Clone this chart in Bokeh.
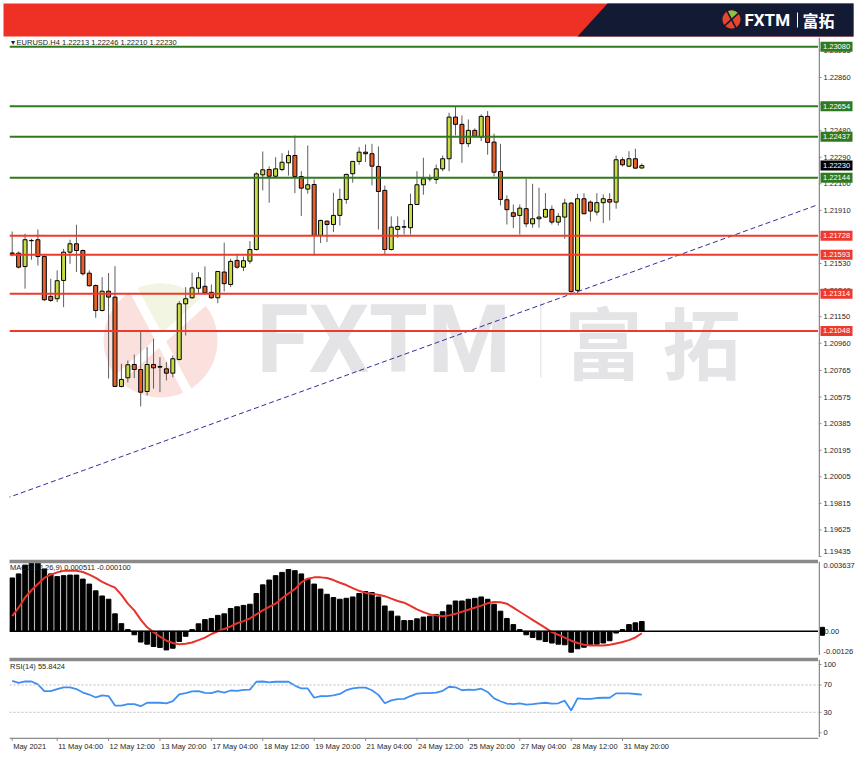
import numpy as np
from bokeh.plotting import figure
from bokeh.layouts import column, row
from bokeh.models import (Range1d, LinearAxis, FixedTicker, Span, Label, BoxAnnotation,
                          PolyAnnotation, ColumnDataSource)
from bokeh.core.properties import value
from bokeh.embed import file_html
from bokeh.resources import INLINE

# ---------------- EURUSD H4 data (bars 1..99, oldest first) ----------------
open_ = [1.21605, 1.21604, 1.21508, 1.21695, 1.21700, 1.21580, 1.21295, 1.21278, 1.21409, 1.21611,
         1.21671, 1.21623, 1.21461, 1.21373, 1.21194, 1.21332, 1.21290, 1.20651, 1.20713, 1.20808,
         1.20772, 1.20615, 1.20808, 1.20794, 1.20777, 1.20746, 1.20844, 1.21242, 1.21285, 1.21353,
         1.21367, 1.21324, 1.21285, 1.21469, 1.21380, 1.21552, 1.21504, 1.21547, 1.21630, 1.22164,
         1.22202, 1.22154, 1.22202, 1.22250, 1.22302, 1.22152, 1.22062, 1.22095, 1.21731, 1.21833,
         1.21809, 1.21874, 1.21988, 1.22172, 1.22260, 1.22326, 1.22315, 1.22224, 1.22053, 1.21630,
         1.21774, 1.21790, 1.21786, 1.21952, 1.22093, 1.22135, 1.22131, 1.22207, 1.22279, 1.22577,
         1.22525, 1.22387, 1.22482, 1.22434, 1.22582, 1.22398, 1.22188, 1.21986, 1.21893, 1.21874,
         1.21922, 1.21814, 1.21850, 1.21862, 1.21917, 1.21826, 1.21862, 1.21962, 1.21338, 1.21993,
         1.21969, 1.21898, 1.21965, 1.21988, 1.21969, 1.22272, 1.22226, 1.22279, 1.22213]
high_ = [1.21759, 1.21616, 1.21743, 1.21707, 1.21773, 1.21587, 1.21421, 1.21481, 1.21635, 1.21700,
         1.21807, 1.21630, 1.21481, 1.21380, 1.21433, 1.21462, 1.21511, 1.20813, 1.20837, 1.20879,
         1.21051, 1.20932, 1.20992, 1.20860, 1.20825, 1.20872, 1.21261, 1.21361, 1.21464, 1.21468,
         1.21509, 1.21380, 1.21477, 1.21679, 1.21564, 1.21599, 1.21580, 1.21690, 1.22183, 1.22331,
         1.22224, 1.22290, 1.22319, 1.22338, 1.22445, 1.22190, 1.22374, 1.22131, 1.21843, 1.21838,
         1.22036, 1.22065, 1.22172, 1.22262, 1.22362, 1.22381, 1.22386, 1.22367, 1.22088, 1.21867,
         1.21867, 1.21843, 1.22029, 1.22190, 1.22286, 1.22167, 1.22238, 1.22302, 1.22608, 1.22653,
         1.22589, 1.22560, 1.22496, 1.22596, 1.22620, 1.22458, 1.22386, 1.22017, 1.21952, 1.21952,
         1.22136, 1.22100, 1.22072, 1.22033, 1.21945, 1.21890, 1.21993, 1.21969, 1.22029, 1.22033,
         1.21981, 1.22033, 1.22024, 1.22033, 1.22302, 1.22290, 1.22333, 1.22351, 1.22246]
low_ = [1.21582, 1.21495, 1.21350, 1.21557, 1.21516, 1.21262, 1.21255, 1.21254, 1.21218, 1.21528,
        1.21469, 1.21444, 1.21366, 1.21142, 1.21187, 1.20708, 1.20648, 1.20644, 1.20680, 1.20710,
        1.20508, 1.20587, 1.20635, 1.20610, 1.20694, 1.20717, 1.20837, 1.21015, 1.21278, 1.21319,
        1.21309, 1.21278, 1.21247, 1.21330, 1.21361, 1.21492, 1.21476, 1.21528, 1.21623, 1.22053,
        1.21965, 1.22141, 1.22190, 1.22159, 1.22033, 1.21869, 1.22029, 1.21588, 1.21676, 1.21683,
        1.21754, 1.21802, 1.21957, 1.22108, 1.22236, 1.22255, 1.22088, 1.21773, 1.21599, 1.21623,
        1.21714, 1.21738, 1.21738, 1.21950, 1.22022, 1.22117, 1.22100, 1.22190, 1.22190, 1.22446,
        1.22250, 1.22362, 1.22429, 1.22405, 1.22308, 1.22153, 1.21945, 1.21809, 1.21783, 1.21738,
        1.21790, 1.21786, 1.21786, 1.21857, 1.21809, 1.21802, 1.21707, 1.21314, 1.21318, 1.21881,
        1.21831, 1.21874, 1.21819, 1.21838, 1.21922, 1.22224, 1.22219, 1.22208, 1.22210]
close_ = [1.21602, 1.21504, 1.21700, 1.21693, 1.21580, 1.21271, 1.21266, 1.21407, 1.21611, 1.21671,
          1.21623, 1.21457, 1.21371, 1.21194, 1.21332, 1.21290, 1.20651, 1.20701, 1.20806, 1.20772,
          1.20610, 1.20808, 1.20784, 1.20789, 1.20746, 1.20849, 1.21242, 1.21278, 1.21356, 1.21428,
          1.21320, 1.21285, 1.21473, 1.21386, 1.21545, 1.21504, 1.21550, 1.21630, 1.22171, 1.22200,
          1.22154, 1.22207, 1.22254, 1.22302, 1.22152, 1.22069, 1.22093, 1.21731, 1.21838, 1.21809,
          1.21874, 1.21988, 1.22167, 1.22260, 1.22326, 1.22315, 1.22226, 1.22045, 1.21630, 1.21790,
          1.21795, 1.21793, 1.21952, 1.22093, 1.22136, 1.22142, 1.22207, 1.22279, 1.22577, 1.22525,
          1.22387, 1.22482, 1.22439, 1.22582, 1.22396, 1.22183, 1.21988, 1.21915, 1.21867, 1.21926,
          1.21814, 1.21850, 1.21862, 1.21917, 1.21826, 1.21867, 1.21962, 1.21330, 1.21993, 1.21886,
          1.21905, 1.21965, 1.21993, 1.21969, 1.22272, 1.22236, 1.22279, 1.22212, 1.22230]

macd_main = [0.00278, 0.00299, 0.00345, 0.00364, 0.00355, 0.00325, 0.00299, 0.00285, 0.00290, 0.00293,
             0.00293, 0.00272, 0.00246, 0.00211, 0.00184, 0.00167, 0.00091, 0.00040, 0.00009, -0.00018,
             -0.00056, -0.00067, -0.00079, -0.00084, -0.00097, -0.00088, -0.00053, -0.00026, 0.00009, 0.00039,
             0.00061, 0.00067, 0.00083, 0.00091, 0.00119, 0.00128, 0.00135, 0.00141, 0.00197, 0.00242,
             0.00267, 0.00290, 0.00307, 0.00322, 0.00316, 0.00299, 0.00272, 0.00246, 0.00220, 0.00193,
             0.00176, 0.00167, 0.00172, 0.00179, 0.00197, 0.00207, 0.00202, 0.00179, 0.00132, 0.00105,
             0.00079, 0.00056, 0.00056, 0.00065, 0.00074, 0.00079, 0.00088, 0.00102, 0.00137, 0.00158,
             0.00158, 0.00167, 0.00172, 0.00179, 0.00167, 0.00141, 0.00105, 0.00067, 0.00035, 0.00009,
             -0.00018, -0.00032, -0.00044, -0.00053, -0.00061, -0.00067, -0.00070, -0.00109, -0.00091, -0.00083,
             -0.00070, -0.00067, -0.00061, -0.00049, -0.00009, 0.00009, 0.00035, 0.00044, 0.000511]
macd_signal = [0.00079, 0.00123, 0.00176, 0.00214, 0.00246, 0.00278, 0.00295, 0.00307, 0.00315, 0.00316,
               0.00315, 0.00309, 0.00295, 0.00278, 0.00258, 0.00242, 0.00228, 0.00190, 0.00144, 0.00109,
               0.00061, 0.00021, -0.00004, -0.00028, -0.00049, -0.00061, -0.00067, -0.00065, -0.00058, -0.00046,
               -0.00033, -0.00014, 0.00000, 0.00012, 0.00026, 0.00042, 0.00053, 0.00067, 0.00088, 0.00109,
               0.00127, 0.00144, 0.00172, 0.00197, 0.00220, 0.00255, 0.00274, 0.00281, 0.00281, 0.00278,
               0.00267, 0.00253, 0.00241, 0.00225, 0.00211, 0.00200, 0.00195, 0.00190, 0.00183, 0.00170,
               0.00158, 0.00149, 0.00132, 0.00114, 0.00100, 0.00088, 0.00083, 0.00079, 0.00083, 0.00091,
               0.00102, 0.00112, 0.00123, 0.00134, 0.00146, 0.00153, 0.00151, 0.00144, 0.00123, 0.00102,
               0.00081, 0.00060, 0.00039, 0.00018, -0.00004, -0.00018, -0.00033, -0.00049, -0.00061, -0.00070,
               -0.00074, -0.00074, -0.00074, -0.00070, -0.00063, -0.00056, -0.00046, -0.00032, -0.00010]
rsi14 = [76.0, 73.0, 75.1, 75.1, 70.9, 61.1, 61.1, 64.0, 66.6, 66.6,
         64.0, 58.9, 56.0, 51.7, 54.7, 53.8, 39.8, 39.8, 41.9, 41.9,
         38.9, 44.0, 44.0, 44.0, 43.2, 46.2, 56.4, 58.1, 60.6, 61.1,
         58.5, 58.1, 61.1, 58.9, 61.9, 61.5, 62.8, 63.2, 74.7, 75.1,
         73.8, 74.7, 74.7, 74.7, 69.1, 64.9, 64.9, 51.3, 53.8, 53.8,
         54.7, 56.8, 62.3, 64.9, 66.2, 66.2, 62.3, 55.5, 43.2, 47.4,
         49.2, 49.6, 53.8, 57.2, 58.1, 58.1, 58.9, 61.5, 67.4, 66.6,
         62.3, 63.2, 62.8, 64.5, 59.8, 50.4, 46.2, 42.8, 41.9, 43.2,
         41.1, 41.9, 43.2, 44.0, 42.8, 43.2, 47.0, 32.6, 50.4, 49.6,
         49.6, 50.9, 51.3, 51.3, 57.7, 57.7, 57.7, 56.8, 55.8424]

bars = list(range(1, len(open_) + 1))

resistance_levels = [1.23080, 1.22654, 1.22437, 1.22144]
support_levels = [1.21728, 1.21593, 1.21314, 1.21048]
last_price = 1.22230
trend_bars = [0, 127]
trend_prices = [1.19850, 1.21960]

price_ticks = [1.19435, 1.19625, 1.19815, 1.20005, 1.20195, 1.20385, 1.20575, 1.20765,
               1.20960, 1.21150, 1.21340, 1.21530, 1.21720, 1.21910, 1.22100, 1.22290,
               1.22480, 1.22670, 1.22860, 1.23055]
macd_max, macd_min = 0.003637, -0.00126
rsi_ticks = [0, 30, 70, 100]
rsi_levels = [70, 30]
time_ticks = [1, 8, 16, 24, 32, 40, 48, 56, 64, 72, 80, 88, 96]
time_labels = ["May 2021", "11 May 04:00", "12 May 12:00", "13 May 20:00", "17 May 04:00",
               "18 May 12:00", "19 May 20:00", "21 May 04:00", "24 May 12:00", "25 May 20:00",
               "27 May 04:00", "28 May 12:00", "31 May 20:00"]

# ---------------- styling ----------------
W = 856
LEFT = 9
SCALE_W = 38
PANEL_W = W - SCALE_W
FONT = "Liberation Sans"
FS = "7.5px"
TXT = "#1e1e1e"
AXIS = "#8c8c8c"
BULL = "#c9dc46"
BEAR = "#e8602c"
GREEN = "#2f7a1f"
RED = "#ee3a2c"

xr = Range1d(0.58, 126.5)


def panel_fig(height, y_range, top=0, bottom=0):
    p = figure(width=PANEL_W, height=height, x_range=xr, y_range=y_range,
               x_axis_type=None, y_axis_type=None,
               toolbar_location=None, output_backend="svg",
               min_border_left=LEFT, min_border_right=0,
               min_border_top=top, min_border_bottom=bottom,
               outline_line_color=None, frame_align=False)
    p.grid.visible = False
    return p


def scale_fig(height, y_range, top=0, bottom=0):
    """Narrow price scale to the right of a panel, sharing its vertical range."""
    s = figure(width=SCALE_W, height=height, x_range=Range1d(0, SCALE_W), y_range=y_range,
               x_axis_type=None, y_axis_type=None, toolbar_location=None,
               output_backend="svg", min_border_left=0, min_border_right=0,
               min_border_top=top, min_border_bottom=bottom,
               outline_line_color=None, frame_align=False)
    s.grid.visible = False
    s.add_layout(Span(location=0.75, dimension="height", line_color=AXIS, line_width=1.5))
    return s


def scale_ticks(s, ticks, labels, baselines="middle", offsets=0, x=5):
    n = len(ticks)
    s.segment(x0=[0] * n, y0=ticks, x1=[3] * n, y1=ticks, line_color=AXIS, line_width=1)
    s.text(x=[x] * n, y=ticks, text=labels, text_font=value(FONT), text_font_size=FS,
           text_color=TXT, text_baseline=baselines, y_offset=offsets)


def scale_tags(s, levels, colors):
    n = len(levels)
    s.rect(x=[18] * n, y=levels, width=32, height=10, height_units="screen",
           fill_color=colors, line_color=None)
    s.text(x=[4.5] * n, y=levels, text=["%.5f" % v for v in levels], text_font=value(FONT),
           text_font_size=FS, text_color="white", text_baseline="middle")


def separator(p):
    ax = LinearAxis(ticker=FixedTicker(ticks=[]), axis_line_color="#8a8a8a", axis_line_width=3.5,
                    major_tick_out=0, major_tick_in=0, minor_tick_out=0, minor_tick_in=0,
                    major_label_text_font_size="0px", major_label_standoff=0)
    p.add_layout(ax, "above")


def text_label(p, x, y, text, **kw):
    opts = dict(x=x, y=y, x_units="screen", y_units="screen", text=text,
                text_font=FONT, text_font_size=FS, text_color=TXT,
                text_baseline="middle", text_align="left")
    opts.update(kw)
    p.add_layout(Label(**opts))


def logo_shapes(cx, cy, r, up, band):
    """Disk, upper leaf and the two strokes of the round X logo."""
    t = np.linspace(0, 2 * np.pi, 72)
    disk = (cx + r * np.cos(t), cy + up * r * np.sin(t))
    a = np.linspace(np.radians(42), np.radians(118), 30)
    leaf = (np.concatenate([[cx], cx + r * np.cos(a)]),
            np.concatenate([[cy], cy + up * r * np.sin(a)]))
    strokes = []
    for ang in (np.radians(42), np.radians(118)):
        d = np.array([np.cos(ang), np.sin(ang)])
        n = np.array([-d[1], d[0]])
        pts = [d * r * 1.05 + n * band / 2, d * r * 1.05 - n * band / 2,
               -d * r * 1.05 - n * band / 2, -d * r * 1.05 + n * band / 2]
        strokes.append(([cx + q[0] for q in pts], [cy + up * q[1] for q in pts]))
    return disk, leaf, strokes


# ---------------- header banner ----------------
head = figure(width=W, height=37, x_range=Range1d(0, W), y_range=Range1d(37, 0),
              x_axis_type=None, y_axis_type=None, toolbar_location=None,
              output_backend="svg", min_border=0, outline_line_color=None, frame_align=False)
head.grid.visible = False
head.quad(left=3, right=853, top=3, bottom=36, color="#ee3124", line_color=None)
head.patch(x=[607, 853, 853, 577], y=[3, 3, 36, 36], color="#131a33", line_color=None)
disk, leaf, strokes = logo_shapes(731, 19, 9, -1, 1.6)
head.patch(*disk, color="#e9452c", line_color=None)
head.patch(*leaf, color="#8cc540", line_color=None)
for sx, sy in strokes:
    head.patch(sx, sy, color="#131a33", line_color=None)
head.text(x=[744], y=[19.5], text=["FXTM"], text_color="white", text_font=value("Roboto"),
          text_font_style="bold", text_font_size="17px", text_baseline="middle")
head.segment(x0=[797], y0=[12], x1=[797], y1=[27], line_color="white", line_width=1)
head.text(x=[802], y=[19.5], text=["富拓"], text_color="white",
          text_font=value("Noto Sans CJK SC"), text_font_style="bold",
          text_font_size="16px", text_baseline="middle")

# ---------------- price panel ----------------
price_range = Range1d(1.19428, 1.23146)
main = panel_fig(520, price_range)

# watermark (behind the candles)
wm_disk, wm_leaf, wm_strokes = logo_shapes(151, 217, 57, 1, 9)
main.add_layout(PolyAnnotation(xs=list(wm_disk[0]), ys=list(wm_disk[1]), xs_units="screen",
                               ys_units="screen", fill_color="#fae1dd", fill_alpha=1,
                               line_color=None, level="underlay"))
main.add_layout(PolyAnnotation(xs=list(wm_leaf[0]), ys=list(wm_leaf[1]), xs_units="screen",
                               ys_units="screen", fill_color="#f1f5e2", fill_alpha=1,
                               line_color=None, level="underlay"))
for sx, sy in wm_strokes:
    main.add_layout(PolyAnnotation(xs=sx, ys=sy, xs_units="screen", ys_units="screen",
                                   fill_color="white", fill_alpha=1, line_color=None,
                                   level="underlay"))
WM = "#e4e4e6"
main.add_layout(Label(x=247, y=218, x_units="screen", y_units="screen", text="FXTM",
                      text_font="Roboto", text_font_style="bold", text_font_size="95px",
                      text_color=WM, text_baseline="middle", level="underlay"))
main.add_layout(BoxAnnotation(left=530.5, right=532, bottom=180, top=257, left_units="screen",
                              right_units="screen", top_units="screen", bottom_units="screen",
                              fill_color="#e9e9eb", fill_alpha=1, line_color=None,
                              level="underlay"))
for cx, ch in ((594, "富"), (692, "拓")):
    main.add_layout(Label(x=cx, y=218, x_units="screen", y_units="screen", text=ch,
                          text_font="Noto Sans CJK SC", text_font_style="bold",
                          text_font_size="78px", text_color=WM, text_align="center",
                          text_baseline="middle", level="underlay"))

# candles
o = np.array(open_); c = np.array(close_)
src = ColumnDataSource(dict(x=bars, high=high_, low=low_,
                            top=np.maximum(o, c), bottom=np.minimum(o, c),
                            color=[BULL if cc >= oo else BEAR for oo, cc in zip(o, c)]))
main.segment(x0="x", y0="low", x1="x", y1="high", source=src, line_color="#5e5e5e", line_width=1)
main.vbar(x="x", top="top", bottom="bottom", width=0.62, source=src,
          fill_color="color", line_color="black", line_width=1)

# trend line
main.line(trend_bars, trend_prices, line_color="#2d3199", line_width=1, line_dash="5 3")

# horizontal levels
for lvl in resistance_levels:
    main.add_layout(Span(location=lvl, dimension="width", line_color=GREEN, line_width=2))
for lvl in support_levels:
    main.add_layout(Span(location=lvl, dimension="width", line_color=RED, line_width=2))

text_label(main, 1, 515, "▾ EURUSD.H4  %.5f %.5f %.5f %.5f" % (open_[-1], high_[-1], low_[-1], close_[-1]))

main_scale = scale_fig(520, price_range)
scale_ticks(main_scale, price_ticks, ["%.5f" % t for t in price_ticks],
            baselines=["bottom"] + ["middle"] * (len(price_ticks) - 1),
            offsets=[-3] + [0] * (len(price_ticks) - 1))
scale_tags(main_scale, resistance_levels + support_levels + [last_price],
           [GREEN] * len(resistance_levels) + [RED] * len(support_levels) + ["black"])

# ---------------- MACD panel ----------------
macd_range = Range1d(macd_min, macd_max)
macd = panel_fig(98, macd_range, top=4)
separator(macd)
macd.vbar(x=bars, top=macd_main, bottom=0, width=0.72, color="black")
macd.add_layout(Span(location=0, dimension="width", line_color="black", line_width=1.5))
macd.line(bars, macd_signal, line_color="#e8322a", line_width=2)
text_label(macd, 0.5, 88, "MACD(12,26,9) %.6f %.6f" % (macd_main[-1], macd_signal[-1]))

macd_scale = scale_fig(98, macd_range, top=4)
macd_scale.text(x=[5, 5], y=[macd_max, macd_min], text=["%.6f" % macd_max, "%.5f" % macd_min],
                text_font=value(FONT), text_font_size=FS, text_color=TXT,
                text_baseline=["top", "bottom"], y_offset=[1, -2])
macd_scale.rect(x=[4], y=[0], width=4, height=8, height_units="screen", color="black")
macd_scale.text(x=[6], y=[0], text=["0.00"], text_font=value(FONT), text_font_size=FS,
                text_color=TXT, text_baseline="middle")

# ---------------- RSI panel ----------------
rsi_range = Range1d(-6.9, 107.3)
rsi = panel_fig(82, rsi_range, top=4)
separator(rsi)
for lvl in rsi_levels:
    rsi.add_layout(Span(location=lvl, dimension="width", line_color="#b9b9b9",
                        line_width=1, line_dash="2 2"))
rsi.line(bars, rsi14, line_color="#3f8ef2", line_width=1.8)
text_label(rsi, 0.5, 71, "RSI(14) %.4f" % rsi14[-1])

rsi_scale = scale_fig(82, rsi_range, top=4)
scale_ticks(rsi_scale, rsi_ticks, [str(t) for t in rsi_ticks])

# ---------------- time scale ----------------
strip = figure(width=W, height=21, x_range=xr, y_range=Range1d(0, 21),
               x_axis_type=None, y_axis_type=None, toolbar_location=None,
               output_backend="svg", min_border_left=LEFT, min_border_right=SCALE_W,
               min_border_top=0, min_border_bottom=0, outline_line_color=None,
               frame_align=False)
strip.grid.visible = False
strip.add_layout(Span(location=20.3, dimension="width", line_color=AXIS, line_width=1.5))
n_t = len(time_ticks)
strip.segment(x0=time_ticks, y0=[21] * n_t, x1=time_ticks, y1=[17.5] * n_t,
              line_color=AXIS, line_width=1)
strip.text(x=time_ticks, y=[12.5] * n_t, text=time_labels, x_offset=1,
           text_font=value(FONT), text_font_size=FS, text_color=TXT,
           text_align="left", text_baseline="middle")

layout = column(head, row(main, main_scale, spacing=0), row(macd, macd_scale, spacing=0),
                row(rsi, rsi_scale, spacing=0), strip, spacing=0)
open("out.html", "w").write(file_html(layout, INLINE))
